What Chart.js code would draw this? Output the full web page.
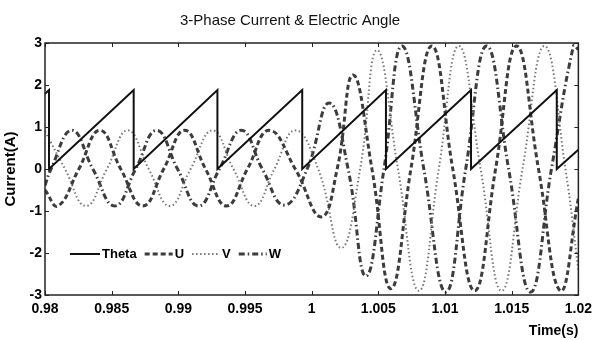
<!DOCTYPE html>
<html><head><meta charset="utf-8">
<script src="https://cdn.jsdelivr.net/npm/chart.js@4/dist/chart.umd.min.js"></script>
<style>html,body{margin:0;padding:0;background:#fff;}#wrap{width:598px;height:340px;}</style>
</head><body><div id="wrap"><canvas id="c" width="598" height="340"></canvas></div>
<script>
const titleText = '3-Phase Current & Electric Angle';
const xTitle = 'Time(s)';
const yTitle = 'Current(A)';
const xTickValues = [0.98, 0.985, 0.99, 0.995, 1, 1.005, 1.01, 1.015, 1.02];
const xTickLabels = ['0.98', '0.985', '0.99', '0.995', '1', '1.005', '1.01', '1.015', '1.02'];
const yTickValues = [-3, -2, -1, 0, 1, 2, 3];
const yTickLabels = ['-3', '-2', '-1', '0', '1', '2', '3'];
const seriesNames = ['Theta', 'U', 'V', 'W'];

const thetaTime = [0.98, 0.98030, 0.98030, 0.98665, 0.98665, 0.99293, 0.99293, 0.99929, 0.99929, 1.00557, 1.00557, 1.01195, 1.01195, 1.01838, 1.01838, 1.02];
const thetaVals = [1.79, 1.88, 0, 1.88, 0, 1.88, 0, 1.88, 0, 1.88, 0, 1.88, 0, 1.88, 0, 0.46];

const uTime = [0.98, 0.98097, 0.98254, 0.98411, 0.98568, 0.98733, 0.98890, 0.99047, 0.99204, 0.99361, 0.99518, 0.99682, 0.99877, 1.00071, 1.00191, 1.00310, 1.00452, 1.00594, 1.00744, 1.00901, 1.01058, 1.01222, 1.01379, 1.01536, 1.01701, 1.01865, 1.02];
const uVals = [-0.5, -0.88, 0, 0.92, 0, -0.88, 0, 0.92, 0, -0.88, 0, 0.92, 0, -1.14, 0, 2.24, 0, -2.85, 0, 2.93, 0, -2.9, 0, 2.93, 0, -2.9, -0.7];

const vTime = [0.98, 0.98150, 0.98307, 0.98464, 0.98621, 0.98778, 0.98935, 0.99092, 0.99256, 0.99413, 0.99570, 0.99720, 0.99877, 1.00049, 1.00221, 1.00363, 1.00490, 1.00647, 1.00804, 1.00953, 1.01103, 1.01267, 1.01424, 1.01581, 1.01746, 1.01903, 1.02];
const vVals = [0.9, 0, -0.88, 0, 0.92, 0, -0.88, 0, 0.92, 0, -0.88, 0, 0.92, 0, -1.88, 0, 2.83, 0, -2.9, 0, 2.93, 0, -2.9, 0, 2.93, 0, -2.4];

const wTime = [0.98, 0.98045, 0.98202, 0.98359, 0.98523, 0.98680, 0.98837, 0.98994, 0.99151, 0.99308, 0.99473, 0.99630, 0.99794, 0.99966, 1.00131, 1.00273, 1.00407, 1.00542, 1.00677, 1.00841, 1.01006, 1.01155, 1.01312, 1.01477, 1.01641, 1.01798, 1.01963, 1.02];
const wVals = [-0.39, 0, 0.92, 0, -0.88, 0, 0.92, 0, -0.88, 0, 0.92, 0, -0.86, 0, 1.57, 0, -2.55, 0, 2.93, 0, -2.93, 0, 2.93, 0, -2.93, 0, 2.93, 2.85];

const FONT = '"Liberation Sans", Arial, sans-serif';
const pts = (ts, vs) => ts.map((t, i) => ({x: t, y: vs[i]}));

const boxPlugin = {
  id: 'box',
  afterDatasetsDraw(chart) {
    const {ctx, chartArea: a, scales} = chart;
    ctx.save();
    ctx.strokeStyle = '#222';
    ctx.lineWidth = 1.5;
    ctx.strokeRect(a.left, a.top, a.right - a.left, a.bottom - a.top);
    ctx.lineWidth = 1;
    const tl = 4;
    xTickValues.forEach(v => {
      const x = Math.round(scales.x.getPixelForValue(v)) + 0.5;
      ctx.beginPath();
      ctx.moveTo(x, a.bottom); ctx.lineTo(x, a.bottom - tl);
      ctx.moveTo(x, a.top); ctx.lineTo(x, a.top + tl);
      ctx.stroke();
    });
    yTickValues.forEach(v => {
      const y = Math.round(scales.y.getPixelForValue(v)) + 0.5;
      ctx.beginPath();
      ctx.moveTo(a.left, y); ctx.lineTo(a.left + tl, y);
      ctx.moveTo(a.right, y); ctx.lineTo(a.right - tl, y);
      ctx.stroke();
    });
    // legend inside plot
    const ly = scales.y.getPixelForValue(-2) + 1;
    let lx = a.left + 25;
    ctx.font = 'bold 13px ' + FONT;
    ctx.textBaseline = 'middle';
    ctx.fillStyle = '#000';
    chart.data.datasets.forEach((ds, i) => {
      const len = i === 0 ? 30 : 28;
      ctx.save();
      ctx.strokeStyle = ds.borderColor;
      ctx.lineWidth = ds.borderWidth;
      ctx.setLineDash(ds.borderDash || []);
      ctx.beginPath();
      ctx.moveTo(lx, ly); ctx.lineTo(lx + len, ly);
      ctx.stroke();
      ctx.restore();
      lx += len + 2;
      ctx.fillText(ds.label, lx, ly);
      lx += ctx.measureText(ds.label).width + 8;
    });
    ctx.restore();
  }
};

new Chart(document.getElementById('c'), {
  type: 'line',
  data: {
    datasets: [
      {label: seriesNames[0], data: pts(thetaTime, thetaVals), borderColor: '#111', borderWidth: 2, tension: 0, pointRadius: 0},
      {label: seriesNames[1], data: pts(uTime, uVals), borderColor: '#3c3c3c', borderWidth: 3, borderDash: [5, 3], tension: 0.45, pointRadius: 0},
      {label: seriesNames[2], data: pts(vTime, vVals), borderColor: '#777', borderWidth: 2, borderDash: [1.5, 2.5], tension: 0.45, pointRadius: 0},
      {label: seriesNames[3], data: pts(wTime, wVals), borderColor: '#3c3c3c', borderWidth: 3, borderDash: [6, 3, 1.5, 3], tension: 0.45, pointRadius: 0}
    ]
  },
  options: {
    responsive: false,
    animation: false,
    devicePixelRatio: 1,
    layout: {padding: {left: 0, right: 18, top: 0, bottom: 0}},
    plugins: {
      legend: {display: false},
      tooltip: {enabled: false},
      title: {display: true, text: titleText, color: '#111', font: {family: FONT, size: 15, weight: 'normal'}, padding: {top: 12, bottom: 13}}
    },
    scales: {
      x: {
        type: 'linear', min: 0.98, max: 1.02,
        afterBuildTicks: s => { s.ticks = xTickValues.map(v => ({value: v})); },
        afterFit: s => { s.height = 45; },
        ticks: {callback: (v, i) => xTickLabels[i], color: '#000', font: {family: FONT, size: 14, weight: 'bold'}, padding: 6, maxRotation: 0, autoSkip: false},
        grid: {display: false, drawTicks: false},
        border: {display: false},
        title: {display: true, text: xTitle, align: 'end', color: '#000', font: {family: FONT, size: 14, weight: 'bold'}, padding: {top: 0, bottom: 0}}
      },
      y: {
        type: 'linear', min: -3, max: 3,
        afterBuildTicks: s => { s.ticks = yTickValues.map(v => ({value: v})); },
        afterFit: s => { s.width = 45; },
        ticks: {callback: (v, i) => yTickLabels[i], color: '#000', font: {family: FONT, size: 14, weight: 'bold'}, padding: 3, autoSkip: false},
        grid: {display: false, drawTicks: false},
        border: {display: false},
        title: {display: true, text: yTitle, color: '#000', font: {family: FONT, size: 15, weight: 'bold'}, padding: {top: 2, bottom: 0}}
      }
    }
  },
  plugins: [boxPlugin]
});
</script></body></html>
